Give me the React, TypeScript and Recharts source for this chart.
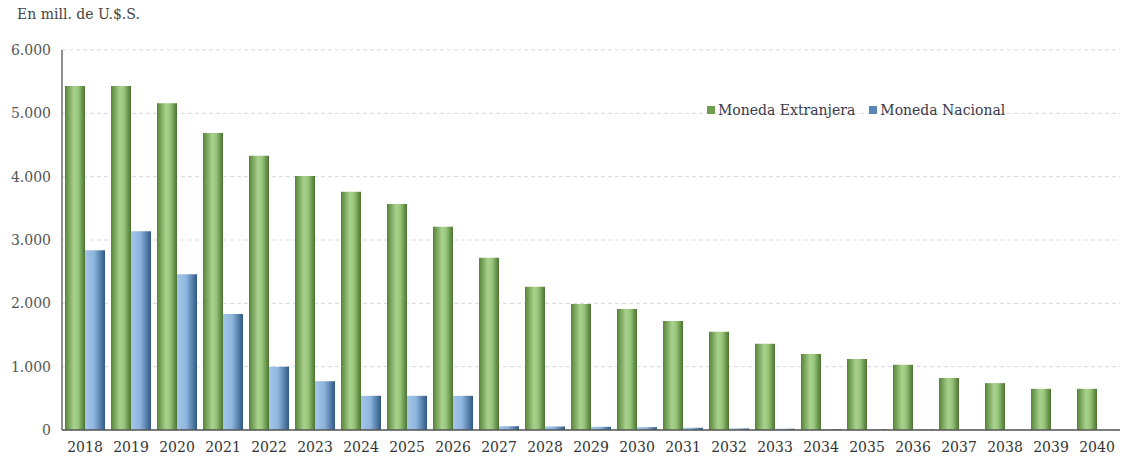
import React from "react";
import {
  BarChart,
  Bar,
  XAxis,
  YAxis,
  CartesianGrid,
} from "recharts";

const years = [
  "2018", "2019", "2020", "2021", "2022", "2023", "2024", "2025", "2026", "2027", "2028", "2029",
  "2030", "2031", "2032", "2033", "2034", "2035", "2036", "2037", "2038", "2039", "2040",
];
const extranjera = [
  5430, 5430, 5160, 4690, 4330, 4010, 3760, 3570, 3210, 2720, 2260, 1990,
  1910, 1720, 1550, 1360, 1200, 1120, 1030, 820, 740, 650, 650,
];
const nacional = [
  2840, 3140, 2460, 1830, 1000, 770, 540, 540, 540, 60, 55, 50,
  45, 35, 25, 20, 12, 10, 6, 5, 3, 2, 1,
];
const yTicks = [0, 1000, 2000, 3000, 4000, 5000, 6000];
const legendItems = [
  { label: "Moneda Extranjera", color: "#6f9e4e" },
  { label: "Moneda Nacional", color: "#5b85b5" },
];

const data = years.map((year, i) => ({
  year,
  extranjera: extranjera[i],
  nacional: nacional[i],
}));

const FONT = "'DejaVu Serif', 'Liberation Serif', serif";

const fmt = (v: number) =>
  v === 0 ? "0" : `${Math.floor(v / 1000)}.${String(v % 1000).padStart(3, "0")}`;

export default function App() {
  return (
    <div style={{ position: "absolute", left: 0, top: 0, width: 1126, height: 461, background: "#fff" }}>
      <div
        style={{
          position: "absolute",
          left: 17,
          top: 6,
          fontFamily: FONT,
          fontSize: 14,
          color: "#444",
        }}
      >
        En mill. de U.$.S.
      </div>
      {/* legend drawn outside the chart so it takes no plot space */}
      <div
        style={{
          position: "absolute",
          left: 707,
          top: 102,
          display: "flex",
          fontFamily: FONT,
          fontSize: 14,
          color: "#3a3a4a",
          zIndex: 2,
        }}
      >
        {legendItems.map((it) => (
          <div key={it.label} style={{ display: "flex", alignItems: "center", marginRight: 14 }}>
            <span
              style={{
                display: "inline-block",
                width: 8,
                height: 8,
                background: it.color,
                marginRight: 3,
              }}
            />
            {it.label}
          </div>
        ))}
      </div>
      <BarChart
        width={1126}
        height={461}
        data={data}
        margin={{ top: 50, right: 6, bottom: 0, left: 0 }}
        barCategoryGap={3}
        barGap={0}
      >
        <defs>
          <linearGradient id="gGreen" x1="0" y1="0" x2="1" y2="0">
            <stop offset="0%" stopColor="#56833a" />
            <stop offset="45%" stopColor="#a9d28c" />
            <stop offset="65%" stopColor="#98c77b" />
            <stop offset="100%" stopColor="#4a7430" />
          </linearGradient>
          <linearGradient id="gBlue" x1="0" y1="0" x2="1" y2="0">
            <stop offset="0%" stopColor="#a3c6e8" />
            <stop offset="45%" stopColor="#8fb6de" />
            <stop offset="100%" stopColor="#2f5886" />
          </linearGradient>
        </defs>
        <CartesianGrid
          vertical={false}
          stroke="#d9d9d9"
          strokeDasharray="4 3"
        />
        <XAxis
          dataKey="year"
          height={31}
          tickLine={false}
          axisLine={{ stroke: "#555", strokeWidth: 1.5 }}
          tick={{ fontFamily: FONT, fontSize: 14, fill: "#333" }}
          dy={4}
        />
        <YAxis
          width={62}
          domain={[0, 6000]}
          ticks={yTicks}
          tickFormatter={fmt}
          tickLine={false}
          axisLine={{ stroke: "#222", strokeWidth: 1 }}
          tick={{ fontFamily: FONT, fontSize: 14, fill: "#555" }}
          dx={-3}
        />
        <Bar dataKey="extranjera" fill="url(#gGreen)" isAnimationActive={false} />
        <Bar dataKey="nacional" fill="url(#gBlue)" isAnimationActive={false} />
      </BarChart>
    </div>
  );
}
